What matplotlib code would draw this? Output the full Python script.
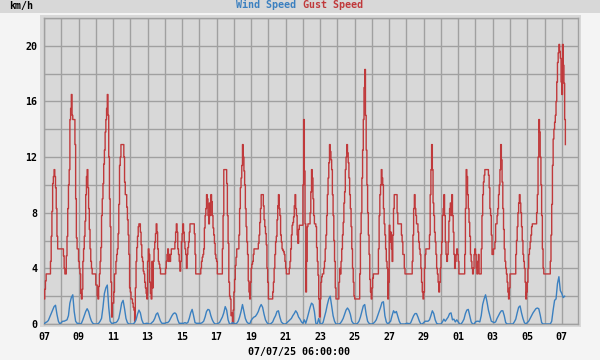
import numpy as np
import matplotlib
matplotlib.use("Agg")
import matplotlib.pyplot as plt
from matplotlib.patches import Rectangle
from matplotlib.ticker import MultipleLocator, FixedLocator

# ---------------- data ----------------
# Gust speed (km/h), hourly from 07/06 00:00
gust_kmh = [
    1.8, 2.5, 3.1, 3.6, 3.6, 3.6, 3.6, 3.6, 3.6, 4.5, 6.3, 8.1, 10.1, 10.6, 11.1, 10.6, 9.8, 8.3, 6.3, 5.4, 5.4, 5.4, 5.4, 5.4,
    5.4, 5.4, 5.4, 4.9, 4.0, 3.6, 3.6, 4.9, 6.3, 8.3, 10.0, 11.1, 14.7, 15.5, 16.5, 15.0, 14.7, 14.7, 14.7, 12.9, 9.0, 6.2, 5.4, 5.4,
    4.5, 4.0, 3.6, 2.2, 1.8, 2.5, 4.5, 5.4, 6.3, 7.4, 9.3, 10.6, 11.1, 9.8, 8.3, 6.8, 5.4, 4.5, 4.0, 3.6, 3.6, 3.6, 3.6, 3.6,
    2.8, 2.8, 2.0, 1.8, 2.7, 3.6, 4.5, 5.5, 7.8, 9.0, 10.1, 11.5, 12.5, 13.8, 14.7, 15.5, 16.5, 15.0, 12.0, 9.0, 7.0, 3.0, 0.5, 1.5,
    1.5, 2.3, 3.6, 3.6, 4.5, 5.0, 5.4, 6.5, 8.6, 11.4, 12.0, 12.9, 12.9, 12.9, 12.9, 12.0, 10.2, 9.3, 9.3, 8.4, 7.5, 6.4, 5.0, 2.6,
    2.3, 1.8, 1.8, 1.5, 1.2, 1.0, 0.2, 2.6, 4.5, 5.5, 6.3, 7.0, 7.2, 7.2, 6.6, 5.7, 4.8, 4.5, 3.8, 3.6, 3.0, 2.6, 2.2, 1.8,
    4.5, 5.4, 5.0, 3.0, 2.2, 1.8, 4.5, 2.6, 4.5, 5.4, 5.9, 6.5, 7.2, 6.6, 5.4, 4.5, 4.3, 4.0, 3.6, 3.6, 3.6, 3.6, 3.6, 3.6,
    3.6, 4.0, 4.5, 5.0, 5.4, 4.5, 5.0, 4.5, 5.0, 5.4, 5.4, 5.4, 5.4, 5.4, 5.9, 6.6, 7.2, 6.6, 5.4, 5.0, 4.5, 3.8, 4.5, 5.9,
    6.5, 7.2, 6.6, 5.9, 5.4, 5.0, 4.0, 5.0, 5.5, 5.9, 6.6, 7.2, 7.2, 7.2, 7.2, 7.2, 7.2, 6.5, 5.0, 3.6, 3.6, 3.6, 3.6, 3.6,
    3.6, 3.6, 4.0, 4.5, 4.8, 5.0, 5.4, 6.9, 7.8, 8.3, 9.3, 9.0, 7.8, 7.2, 8.7, 7.8, 9.3, 8.8, 7.8, 6.9, 6.4, 5.8, 5.0, 4.7,
    4.5, 3.6, 3.6, 3.6, 3.6, 3.6, 3.6, 3.6, 5.4, 7.8, 11.1, 11.1, 11.1, 11.1, 10.1, 7.8, 5.8, 3.0, 2.0, 1.8, 0.6, 0.8, 0.0, 1.0,
    2.3, 3.2, 4.2, 4.8, 5.4, 5.4, 5.4, 6.4, 8.3, 9.8, 10.5, 11.4, 12.9, 12.0, 11.0, 10.0, 8.3, 7.0, 5.9, 5.0, 3.1, 2.3, 1.8, 3.0,
    4.0, 4.3, 4.5, 5.0, 5.4, 5.4, 5.4, 5.4, 5.4, 5.4, 5.8, 6.4, 7.3, 8.3, 9.3, 9.3, 9.3, 8.5, 7.5, 7.0, 6.5, 5.7, 4.0, 3.0,
    1.8, 1.8, 1.8, 1.8, 1.8, 1.8, 2.3, 3.0, 4.0, 5.0, 5.9, 6.3, 7.5, 8.5, 9.3, 8.3, 7.8, 6.4, 5.9, 5.4, 5.3, 5.2, 5.0, 4.5,
    4.0, 3.6, 3.6, 3.6, 3.6, 4.0, 4.5, 5.4, 6.4, 7.1, 7.3, 7.7, 8.5, 9.3, 8.3, 7.8, 6.4, 5.8, 6.8, 7.1, 7.1, 7.1, 7.1, 7.1,
    10.0, 14.7, 11.0, 7.2, 2.3, 4.5, 7.0, 7.2, 7.2, 7.2, 8.0, 9.5, 11.1, 10.5, 9.0, 7.8, 7.2, 7.2, 7.0, 5.5, 4.5, 3.5, 1.8, 0.5,
    1.8, 3.0, 3.4, 3.6, 3.6, 4.0, 4.5, 5.4, 6.4, 7.8, 9.3, 10.5, 11.6, 12.9, 12.4, 11.8, 11.1, 9.3, 7.8, 6.0, 4.5, 2.6, 1.8, 1.8,
    1.8, 1.8, 3.0, 4.0, 3.6, 4.5, 5.4, 6.4, 7.3, 8.7, 9.5, 11.1, 12.0, 12.9, 12.3, 11.6, 10.5, 9.3, 8.3, 7.0, 5.4, 4.0, 3.0, 2.0,
    1.8, 1.8, 1.8, 1.8, 1.8, 1.8, 1.8, 3.6, 6.5, 8.0, 10.5, 12.5, 14.7, 17.0, 18.3, 15.0, 12.5, 10.0, 8.0, 6.4, 5.0, 3.2, 2.3, 1.8,
    2.6, 3.3, 3.6, 3.6, 3.6, 3.6, 3.6, 3.6, 3.6, 5.4, 7.8, 9.3, 10.0, 11.1, 10.5, 10.0, 8.3, 7.2, 6.4, 5.4, 4.5, 4.0, 1.8, 3.0,
    7.1, 5.9, 6.6, 5.4, 4.5, 6.4, 8.3, 9.3, 9.3, 9.3, 9.3, 8.0, 7.2, 7.2, 7.2, 7.2, 7.2, 6.4, 5.9, 5.0, 5.0, 4.0, 3.6, 3.6,
    3.6, 3.6, 3.6, 3.6, 3.6, 3.6, 3.6, 3.6, 4.5, 6.4, 8.3, 9.3, 8.3, 7.8, 7.2, 7.2, 6.6, 5.9, 5.4, 5.0, 4.0, 3.0, 2.3, 1.8,
    2.3, 4.0, 5.0, 5.4, 5.4, 5.4, 5.4, 5.4, 6.4, 9.3, 11.1, 12.9, 11.1, 8.7, 7.8, 6.6, 5.9, 5.0, 4.0, 3.6, 3.0, 2.3, 3.0, 4.0,
    5.0, 5.9, 7.8, 8.3, 9.3, 7.8, 5.9, 5.0, 4.5, 5.0, 5.9, 7.4, 8.3, 8.7, 7.8, 9.3, 7.8, 6.6, 5.0, 4.0, 4.5, 5.0, 5.4, 5.0,
    4.5, 3.6, 3.6, 3.6, 3.6, 3.6, 3.6, 3.6, 3.6, 5.0, 8.3, 11.1, 10.6, 9.3, 8.3, 7.3, 6.3, 5.0, 4.5, 4.0, 3.6, 4.0, 5.0, 5.4,
    5.0, 4.0, 3.6, 4.5, 5.0, 3.6, 3.6, 3.6, 5.4, 7.8, 9.3, 10.2, 10.7, 11.1, 11.1, 11.1, 11.1, 11.1, 10.7, 9.8, 8.3, 7.8, 6.4, 5.0,
    5.0, 5.4, 5.4, 5.9, 7.2, 7.2, 7.8, 8.3, 9.3, 10.0, 11.1, 12.9, 11.8, 10.2, 8.3, 6.8, 5.4, 4.5, 4.0, 3.6, 3.0, 2.3, 1.8, 2.6,
    3.6, 3.6, 3.6, 3.6, 3.6, 3.6, 3.6, 3.6, 5.0, 6.0, 7.0, 8.0, 8.7, 9.3, 8.7, 8.0, 7.0, 6.0, 5.0, 4.5, 4.0, 3.0, 1.8, 2.3,
    3.0, 4.0, 5.0, 5.4, 5.9, 6.4, 7.0, 7.2, 7.2, 7.2, 7.2, 7.2, 7.2, 8.0, 9.3, 12.0, 14.7, 13.8, 12.0, 10.0, 7.8, 5.4, 4.0, 3.6,
    3.6, 3.6, 3.6, 3.6, 3.6, 3.6, 3.6, 3.6, 4.5, 6.4, 8.6, 11.4, 13.3, 14.0, 14.5, 15.0, 16.0, 17.4, 18.8, 19.5, 20.1, 19.6, 19.1, 17.4,
    16.5, 20.1, 18.6, 17.3, 14.7, 12.9,
]

# Wind speed (km/h), every 2 hours from 07/06 00:00
wind_kmh = [
    0.0, 0.1, 0.15, 0.25, 0.5, 0.75, 1.0, 1.25, 1.35, 0.7, 0.2, 0.0,
    0.1, 0.2, 0.2, 0.25, 0.3, 0.6, 1.5, 1.9, 2.1, 0.9, 0.2, 0.05,
    0.05, 0.0, 0.05, 0.3, 0.6, 0.9, 1.1, 0.9, 0.5, 0.2, 0.05, 0.0,
    0.0, 0.0, 0.05, 0.2, 0.4, 1.2, 2.2, 2.6, 2.8, 1.2, 0.2, 0.05,
    0.05, 0.1, 0.1, 0.2, 0.4, 0.9, 1.5, 1.7, 1.1, 0.4, 0.1, 0.0,
    0.0, 0.0, 0.0, 0.1, 0.3, 0.7, 1.0, 0.8, 0.3, 0.05, 0.0, 0.05,
    0.05, 0.0, 0.0, 0.1, 0.2, 0.4, 0.7, 0.8, 0.5, 0.2, 0.05, 0.05,
    0.05, 0.1, 0.1, 0.2, 0.4, 0.6, 0.75, 0.8, 0.7, 0.3, 0.05, 0.05,
    0.05, 0.05, 0.1, 0.05, 0.1, 0.4, 0.8, 1.05, 0.6, 0.1, 0.05, 0.05,
    0.05, 0.05, 0.1, 0.2, 0.5, 0.9, 1.05, 1.0, 0.6, 0.3, 0.1, 0.0,
    0.0, 0.05, 0.1, 0.3, 0.5, 0.8, 1.25, 1.0, 0.3, 0.0, 0.0, 0.1,
    0.05, 0.0, 0.05, 0.2, 0.5, 0.9, 1.4, 0.9, 0.4, 0.15, 0.05, 0.0,
    0.25, 0.4, 0.5, 0.55, 0.7, 0.9, 1.2, 1.4, 1.2, 0.7, 0.3, 0.1,
    0.0, 0.0, 0.05, 0.15, 0.4, 0.6, 0.9, 0.95, 0.5, 0.15, 0.05, 0.0,
    0.0, 0.1, 0.2, 0.3, 0.4, 0.6, 0.75, 0.95, 0.8, 0.5, 0.35, 0.15,
    0.05, 0.3, 0.05, 0.4, 0.8, 1.2, 1.5, 1.4, 0.9, 0.05, 0.0, 0.4,
    0.0, 0.0, 0.1, 0.5, 0.9, 1.4, 1.8, 2.0, 1.3, 0.6, 0.2, 0.0,
    0.0, 0.0, 0.05, 0.2, 0.4, 0.7, 1.0, 1.15, 1.0, 0.7, 0.2, 0.05,
    0.0, 0.0, 0.05, 0.2, 0.5, 0.9, 1.3, 1.4, 0.7, 0.2, 0.05, 0.0,
    0.0, 0.05, 0.15, 0.3, 0.6, 0.9, 1.2, 1.55, 1.6, 0.6, 0.15, 0.0,
    0.1, 0.2, 0.6, 0.95, 0.8, 0.9, 0.55, 0.2, 0.0, 0.0, 0.0, 0.0,
    0.05, 0.05, 0.0, 0.1, 0.35, 0.6, 0.75, 0.75, 0.5, 0.2, 0.0, 0.0,
    0.1, 0.2, 0.2, 0.2, 0.3, 0.6, 0.95, 0.75, 0.3, 0.05, 0.0, 0.0,
    0.0, 0.15, 0.35, 0.2, 0.35, 0.5, 0.75, 0.8, 0.3, 0.35, 0.15, 0.3,
    0.15, 0.0, 0.0, 0.15, 0.35, 0.75, 1.0, 1.05, 0.6, 0.15, 0.0, 0.0,
    0.15, 0.2, 0.2, 0.15, 0.6, 1.4, 1.8, 2.1, 1.6, 1.0, 0.6, 0.2,
    0.15, 0.1, 0.15, 0.4, 0.6, 0.8, 0.95, 0.95, 0.6, 0.1, 0.0, 0.0,
    0.0, 0.0, 0.0, 0.15, 0.35, 0.8, 1.2, 1.3, 0.8, 0.4, 0.1, 0.0,
    0.1, 0.2, 0.4, 0.6, 0.8, 0.95, 1.1, 1.15, 1.1, 0.65, 0.1, 0.0,
    0.0, 0.0, 0.0, 0.0, 0.0, 0.2, 1.0, 1.7, 1.8, 2.9, 3.4, 2.4,
    2.2, 1.9, 2.0,
]

x_tick_labels = ["07", "09", "11", "13", "15", "17", "19", "21", "23", "25",
                 "27", "29", "01", "03", "05", "07"]
y_tick_labels = ["0", "4", "8", "12", "16", "20"]
y_ticks = [0, 4, 8, 12, 16, 20]
title_wind = "Wind Speed"
title_gust = "Gust Speed"
unit_label = "km/h"
date_label = "07/07/25 06:00:00"

# ---------------- style ----------------
W, H = 600, 360
BG = "#f4f4f4"
PANEL = "#d8d8d8"
GRID = "#a0a0a0"
BLUE = "#3b80c0"
RED = "#c0393b"
FONT = dict(family="DejaVu Sans Mono", weight="bold", size=7.2)

fig = plt.figure(figsize=(W / 100, H / 100), dpi=100, facecolor=BG)

def fx(px):
    return px / W

def fy(py):
    return 1 - py / H

# title bar and frame (behind the axes)
fig.patches.append(Rectangle((0, fy(13)), 1, 13 / H, transform=fig.transFigure,
                             facecolor=PANEL, edgecolor="none", zorder=-5))
fig.patches.append(Rectangle((fx(40), fy(327)), 541 / W, 312 / H, transform=fig.transFigure,
                             facecolor=PANEL, edgecolor="none", zorder=-5))

ax = fig.add_axes([fx(44), fy(324), 534 / W, 306 / H])
ax.set_zorder(5)
ax.set_facecolor(PANEL)

t_gust = np.arange(len(gust_kmh)) / 24.0
t_wind = np.arange(len(wind_kmh)) * 2 / 24.0

ax.plot(t_gust, gust_kmh, color=RED, lw=1.0, drawstyle="steps-post", zorder=3)
ax.plot(t_wind, wind_kmh, color=BLUE, lw=1.0, zorder=4)

ax.set_xlim(0, 30.94)
ax.set_ylim(0, 22)

ax.xaxis.set_major_locator(FixedLocator(np.arange(0, 31, 2)))
ax.set_xticklabels(x_tick_labels)
ax.xaxis.set_minor_locator(MultipleLocator(1))
ax.set_yticks(y_ticks)
ax.set_yticklabels(y_tick_labels)
ax.yaxis.set_minor_locator(MultipleLocator(2))

ax.grid(True, which="both", color=GRID, lw=1.0, zorder=1)
ax.set_axisbelow(True)
ax.tick_params(which="both", length=0)
ax.tick_params(axis="x", pad=6)
ax.tick_params(axis="y", pad=5)
for lab in ax.get_xticklabels() + ax.get_yticklabels():
    lab.set_fontfamily(FONT["family"])
    lab.set_fontweight(FONT["weight"])
    lab.set_fontsize(FONT["size"])
    lab.set_color("black")
for s in ax.spines.values():
    s.set_color(GRID)
    s.set_linewidth(1.0)

fig.text(fx(9.5), fy(9), unit_label, color="black", ha="left", va="baseline", **FONT)
fig.text(fx(236.5), fy(8.5), title_wind, color=BLUE, ha="left", va="baseline", **FONT)
fig.text(fx(302.6), fy(8.5), title_gust, color=RED, ha="left", va="baseline", **FONT)
fig.text(fx(299.5), fy(355), date_label, color="black", ha="center", va="baseline", **FONT)

fig.savefig("out.png", dpi=100, facecolor=BG)
